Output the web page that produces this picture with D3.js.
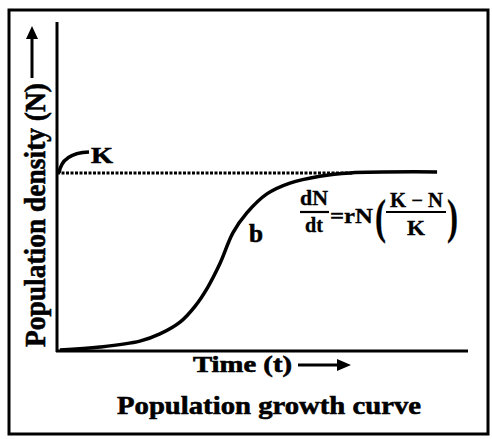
<!DOCTYPE html>
<html>
<head>
<meta charset="utf-8">
<script src="https://cdn.jsdelivr.net/npm/d3@7"></script>
<style>
  body { margin: 0; background: #fff; }
  text { font-family: "Liberation Serif", "Times New Roman", serif; font-weight: bold; fill: #000; stroke: #000; stroke-width: 0.6px; }
</style>
</head>
<body>
<div id="chart"></div>
<script>
// population growth (logistic) curve
const timeValues = [0.7, 10.5, 20.2, 25.1, 30.0, 33.7, 36.8, 39.8, 42.9, 46.3, 51.2, 56.8, 64.1, 71.5, 92.7];
const densityValues = [0, 0.9, 2.7, 4.9, 8.5, 13.4, 19.2, 26.5, 35.7, 41.8, 47.6, 50.9, 53.0, 54.0, 54.3];
const carryingCapacity = 54;
const dashEnd = 72;

const yLabel = "Population density (N)";
const xLabel = "Time (t)";
const title = "Population growth curve";

const width = 492, height = 439;

let svg = d3.select("#chart").append("svg")
    .attr("width", width)
    .attr("height", height);

let x = d3.scaleLinear().domain([0, 100]).range([57, 467]);
let y = d3.scaleLinear().domain([0, 100]).range([350, 22]);

// outer frame
svg.append("rect")
    .attr("x", 9).attr("y", 10)
    .attr("width", 479).attr("height", 424)
    .attr("fill", "none")
    .attr("stroke", "#000")
    .attr("stroke-width", 3);

// axes (plain lines, no ticks)
svg.append("line")
    .attr("x1", x(0)).attr("x2", x(0))
    .attr("y1", y(100)).attr("y2", y(0) + 2)
    .attr("stroke", "#000").attr("stroke-width", 3);
svg.append("line")
    .attr("x1", x(0) - 1).attr("x2", x(100) + 1)
    .attr("y1", y(0) + 1).attr("y2", y(0) + 1)
    .attr("stroke", "#000").attr("stroke-width", 3);

// carrying capacity K (dotted)
svg.append("line")
    .attr("x1", x(0)).attr("x2", x(dashEnd))
    .attr("y1", y(carryingCapacity)).attr("y2", y(carryingCapacity))
    .attr("stroke", "#000").attr("stroke-width", 3)
    .attr("stroke-dasharray", "3,1.5");

// S-shaped curve
let pts = timeValues.map((t, i) => [t, densityValues[i]]);
let line = d3.line()
    .x(d => x(d[0]))
    .y(d => y(d[1]))
    .curve(d3.curveCatmullRom.alpha(0.5));

svg.append("path")
    .datum(pts)
    .attr("d", line)
    .attr("fill", "none")
    .attr("stroke", "#000")
    .attr("stroke-width", 3.5);

// K label with hook
let ky = y(carryingCapacity);
svg.append("path")
    .attr("d", `M${x(0) + 2},${ky} Q${x(0) + 5},${ky - 20} ${x(0) + 32},${ky - 21}`)
    .attr("fill", "none").attr("stroke", "#000").attr("stroke-width", 3.5);
svg.append("text")
    .attr("x", 91).attr("y", 163)
    .attr("font-size", 24)
    .attr("textLength", 22).attr("lengthAdjust", "spacingAndGlyphs")
    .text("K");

// b label
svg.append("text")
    .attr("x", 249).attr("y", 242)
    .attr("font-size", 25)
    .attr("textLength", 14).attr("lengthAdjust", "spacingAndGlyphs")
    .text("b");

// equation dN/dt = rN((K-N)/K)
let eq = svg.append("g").attr("font-size", 20);
function eqText(tx, ty, len, s) {
    return eq.append("text").attr("x", tx).attr("y", ty)
        .attr("textLength", len).attr("lengthAdjust", "spacingAndGlyphs")
        .style("stroke-width", "0.3px")
        .text(s);
}
eqText(300, 205, 28, "dN");
eq.append("line").attr("x1", 300).attr("x2", 329).attr("y1", 212).attr("y2", 212)
    .attr("stroke", "#000").attr("stroke-width", 2.2);
eqText(305, 232, 18, "dt");
eqText(330, 223, 43, "=rN");
eqText(375, 233, 11, "(").attr("font-size", 48).attr("font-weight", "normal");
eqText(390, 207, 53, "K \u2212 N");
eq.append("line").attr("x1", 386).attr("x2", 446).attr("y1", 212).attr("y2", 212)
    .attr("stroke", "#000").attr("stroke-width", 2.2);
eqText(407, 235, 18, "K");
eqText(447, 233, 11, ")").attr("font-size", 48).attr("font-weight", "normal");

// arrow heads
function arrowHead(tipX, tipY, dir) {
    // dir: "up" or "right"
    let p = dir === "up"
        ? [[tipX, tipY], [tipX - 6, tipY + 13], [tipX + 6, tipY + 13]]
        : [[tipX, tipY], [tipX - 14, tipY - 6], [tipX - 14, tipY + 6]];
    svg.append("path").attr("d", "M" + p.join("L") + "Z").attr("fill", "#000");
}

// y label + arrow
svg.append("text")
    .attr("transform", "translate(45,347) rotate(-90)")
    .attr("font-size", 30)
    .attr("textLength", 264)
    .attr("lengthAdjust", "spacingAndGlyphs")
    .text(yLabel);
svg.append("line")
    .attr("x1", 32).attr("x2", 32).attr("y1", 78).attr("y2", 36)
    .attr("stroke", "#000").attr("stroke-width", 3);
arrowHead(32, 26, "up");

// x label + arrow
svg.append("text")
    .attr("x", 193).attr("y", 372)
    .attr("font-size", 23)
    .attr("textLength", 99)
    .attr("lengthAdjust", "spacingAndGlyphs")
    .text(xLabel);
svg.append("line")
    .attr("x1", 298).attr("x2", 340).attr("y1", 365).attr("y2", 365)
    .attr("stroke", "#000").attr("stroke-width", 3);
arrowHead(351, 365, "right");

// caption
svg.append("text")
    .attr("x", 117).attr("y", 414)
    .attr("font-size", 26)
    .attr("textLength", 304)
    .attr("lengthAdjust", "spacingAndGlyphs")
    .text(title);
</script>
</body>
</html>
